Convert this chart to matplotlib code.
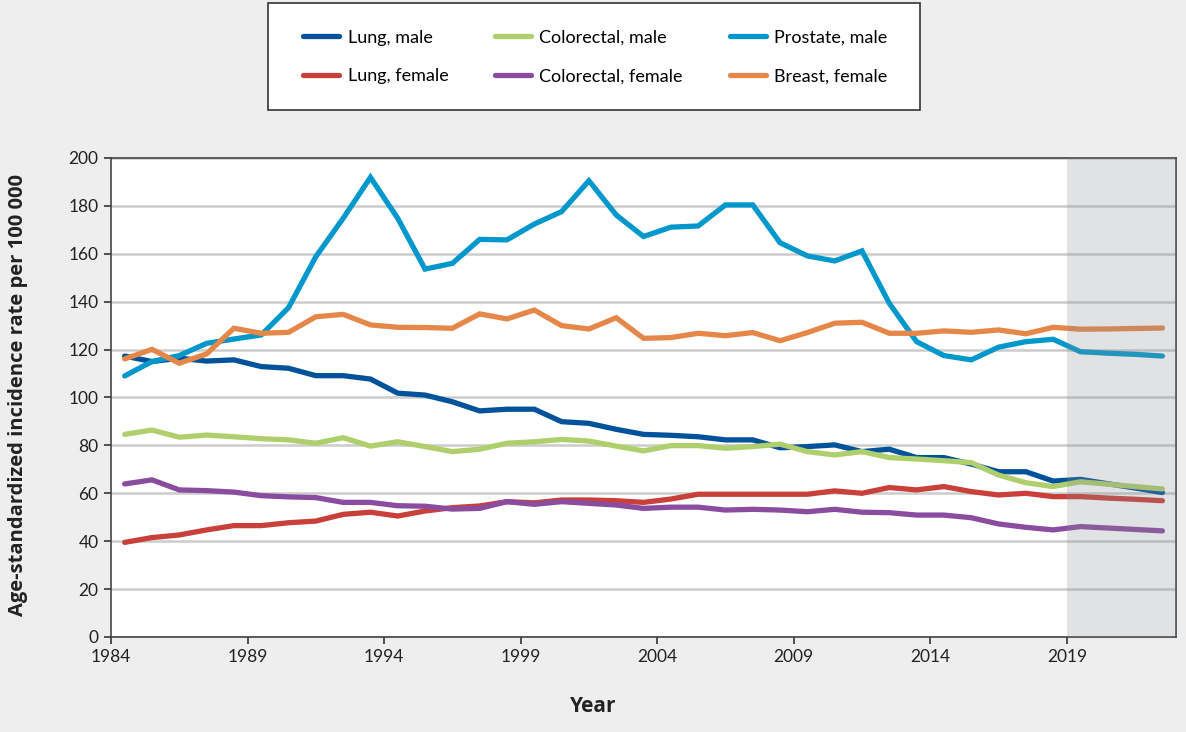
import numpy as np
import matplotlib.pyplot as plt
from matplotlib.patches import Rectangle

# Data (1984-2022, last 4 points projected)
years = list(range(1984, 2023))

lung_male = [117.3, 115.0, 116.4, 115.2, 115.7, 112.9, 112.2, 109.1, 109.1, 107.7,
             101.8, 101.0, 98.2, 94.4, 95.1, 95.1, 89.9, 89.2, 86.7, 84.6,
             84.2, 83.6, 82.3, 82.3, 79.0, 79.5, 80.2, 77.4, 78.4, 74.9,
             74.9, 72.2, 69.0, 69.0, 65.1, 65.8, 64.0, 62.2, 60.3]
colorectal_male = [84.6, 86.4, 83.4, 84.3, 83.6, 82.8, 82.3, 80.9, 83.2, 79.7,
                   81.5, 79.5, 77.4, 78.4, 80.9, 81.5, 82.5, 81.8, 79.7, 77.7,
                   79.9, 79.9, 78.8, 79.5, 80.5, 77.4, 76.0, 77.4, 74.9, 74.3,
                   73.6, 72.8, 67.6, 64.4, 62.8, 64.8, 63.8, 62.8, 61.8]
prostate_male = [109.0, 115.0, 117.5, 122.6, 124.4, 126.1, 137.5, 158.8, 174.8, 191.9,
                 174.8, 153.6, 156.0, 166.0, 165.8, 172.4, 177.6, 190.5, 176.2, 167.2,
                 171.1, 171.6, 180.4, 180.4, 164.6, 159.1, 157.0, 161.2, 139.3, 123.3,
                 117.5, 115.7, 121.0, 123.3, 124.3, 119.1, 118.5, 118.0, 117.3]
lung_female = [39.5, 41.5, 42.6, 44.7, 46.5, 46.5, 47.7, 48.4, 51.2, 52.1,
               50.5, 52.6, 54.0, 54.7, 56.5, 56.0, 57.2, 57.2, 56.9, 56.2,
               57.6, 59.6, 59.6, 59.6, 59.6, 59.6, 61.0, 60.0, 62.4, 61.4,
               62.8, 60.7, 59.3, 60.0, 58.6, 58.6, 58.0, 57.5, 56.9]
colorectal_female = [63.9, 65.6, 61.4, 61.1, 60.5, 59.0, 58.5, 58.2, 56.2, 56.2,
                     54.8, 54.6, 53.4, 53.7, 56.5, 55.4, 56.5, 55.8, 55.1, 53.7,
                     54.2, 54.2, 53.0, 53.3, 53.0, 52.3, 53.3, 52.1, 51.9, 50.9,
                     50.9, 49.8, 47.2, 45.8, 44.7, 46.1, 45.5, 44.9, 44.3]
breast_female = [116.1, 120.1, 114.3, 118.2, 128.9, 126.8, 127.2, 133.7, 134.7, 130.3,
                 129.3, 129.2, 128.9, 134.9, 132.8, 136.5, 130.0, 128.6, 133.3, 124.7,
                 125.0, 126.8, 125.8, 127.1, 123.7, 127.1, 131.0, 131.4, 126.8, 126.8,
                 127.8, 127.2, 128.2, 126.6, 129.3, 128.5, 128.6, 128.8, 129.0]

projection_start = 2019
x_ticks = list(range(1984, 2020, 5))

plt.rcParams['font.family'] = ['Lato', 'DejaVu Sans']

fig = plt.figure(figsize=(11.86, 7.32), dpi=100)
fig.patch.set_facecolor('#eeeeee')
ax = fig.add_axes([0.0936, 0.1298, 0.8980, 0.6544])

x = np.array(years) + 0.5
lw = 3.8
# order so that ncol=3 legend reads row by row like the original
series = [
    (lung_male, '#00529b', 'Lung, male'),
    (lung_female, '#c9403a', 'Lung, female'),
    (colorectal_male, '#afcf6c', 'Colorectal, male'),
    (colorectal_female, '#8a4c9e', 'Colorectal, female'),
    (prostate_male, '#0098cc', 'Prostate, male'),
    (breast_female, '#e6874a', 'Breast, female'),
]
handles = []
for vals, col, lab in series:
    h, = ax.plot(x, vals, color=col, lw=lw, solid_capstyle='round',
                 solid_joinstyle='miter', zorder=3, label=lab)
    handles.append(h)

# projection shading
ax.axvspan(projection_start, 2023, color='#8a8d94', alpha=0.25, lw=0, zorder=5)

ax.set_xlim(1984, 2023)
ax.set_ylim(0, 200)
ax.set_yticks(range(0, 201, 20))
ax.set_xticks(x_ticks)
ax.grid(axis='y', color='#cccccc', lw=1.8, zorder=1)
ax.set_axisbelow(True)
for s in ax.spines.values():
    s.set_color('#444444')
    s.set_linewidth(1.2)
ax.tick_params(axis='both', direction='out', length=5, width=1.2, color='#333333',
               labelsize=12.5, labelcolor='#222222', pad=4)

ax.set_ylabel('Age-standardized incidence rate per 100 000', fontsize=14.5,
              fontweight='bold', family=['Open Sans', 'DejaVu Sans'], color='#222222')
ax.yaxis.set_label_coords(-0.078, 0.505)
fig.text(0.5, 1 - 706 / 732, 'Year', ha='center', va='center', fontsize=15,
         fontweight='bold', family=['Open Sans', 'DejaVu Sans'], color='#222222')

# legend box
fig.patches.append(Rectangle((268 / 1186, 1 - 110 / 732), 652 / 1186, 107 / 732,
                             transform=fig.transFigure, facecolor='white',
                             edgecolor='#333333', lw=1.2, zorder=0))
fig.legend(handles=handles, ncol=3, loc='center', bbox_to_anchor=(0.502, 1 - 57 / 732),
           frameon=False, fontsize=13, handlelength=2.0, handletextpad=0.45,
           columnspacing=2.6, labelspacing=1.25)

fig.savefig('out.png', dpi=100, facecolor=fig.get_facecolor())
